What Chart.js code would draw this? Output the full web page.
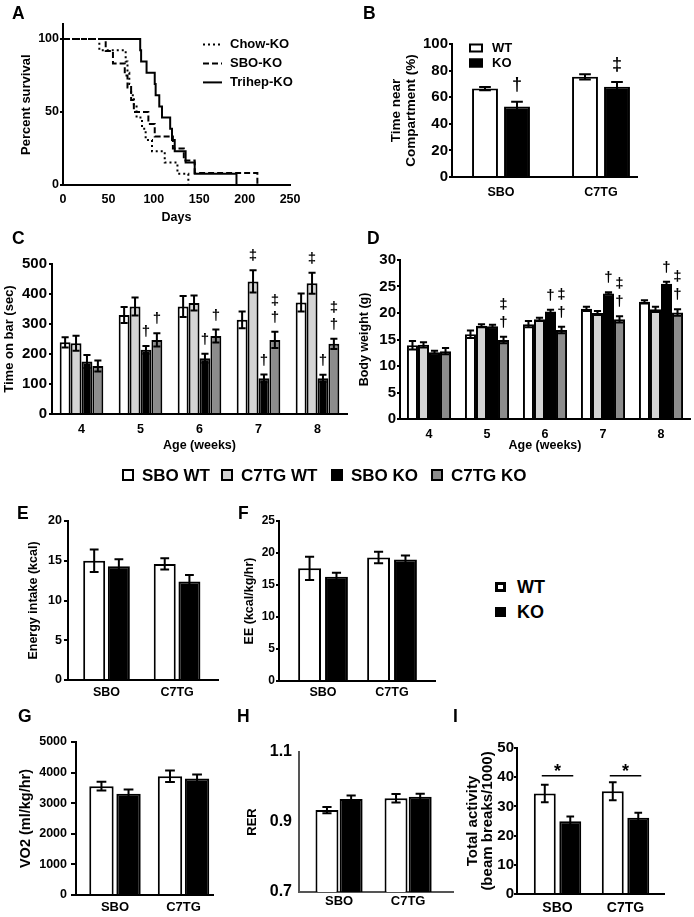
<!DOCTYPE html>
<html>
<head>
<meta charset="utf-8">
<script src="https://cdn.jsdelivr.net/npm/chart.js@4.4.0/dist/chart.umd.min.js"></script>
<style>
  body { margin: 0; background: #fff; }
  #fig { position: relative; width: 694px; height: 917px; overflow: hidden;
         font-family: "Liberation Sans", Arial, sans-serif; font-weight: bold; color: #000; }
  #fig canvas { position: absolute; }
  .letter { position: absolute; font-size: 17.5px; line-height: 1; }
  .txt { position: absolute; line-height: 1; white-space: nowrap; }
  .sq { position: absolute; box-sizing: border-box; border: 2px solid #000; }
</style>
</head>
<body>
<div id="fig"></div>
<script>
// ---------- données ----------
// A : courbes de survie (jours, % survie)
const chowDays   = [0, 40, 69, 71, 73, 75, 78, 81, 87, 91, 98, 112, 126, 138];
const chowSurv   = [100, 92.3, 84.6, 76.9, 69.2, 61.5, 53.8, 46.2, 38.5, 30.8, 23.1, 15.4, 7.7, 0];
const sboDays    = [0, 47, 55, 68, 71, 75, 78, 94, 101, 121, 133, 145, 214];
const sboSurv    = [100, 91.7, 83.3, 75, 66.7, 58.3, 50, 41.7, 33.3, 25, 16.7, 8.3, 0];
const trihepDays = [40, 85, 86, 92, 101, 102, 106, 109, 118, 120, 123, 135, 145, 191];
const trihepSurv = [100, 92.3, 84.6, 76.9, 69.2, 61.5, 53.8, 46.2, 38.5, 30.8, 23.1, 15.4, 7.7, 0];
const survNames  = ['Chow-KO', 'SBO-KO', 'Trihep-KO'];
const daysTicks  = [0, 50, 100, 150, 200, 250];
const survTicks  = [0, 50, 100];

// B : temps près du compartiment
const groups   = ['SBO', 'C7TG'];
const wtB      = [66.5, 75.3];
const wtB_err  = [1.2, 2];
const koB      = [53, 67.8];
const koB_err  = [3.6, 3.6];
const koB_sig  = ['†', '‡'];
const ticksB   = [0, 20, 40, 60, 80, 100];

// C : temps sur la barre (sec), semaines 4 a 8
const weeks       = ['4', '5', '6', '7', '8'];
const seriesNames = ['SBO WT', 'C7TG WT', 'SBO KO', 'C7TG KO'];
const sboWT_C = [239, 330, 358, 314, 372];  const sboWT_C_err = [17, 27, 35, 28, 30];
const c7WT_C  = [236, 358, 370, 442, 436];  const c7WT_C_err  = [25, 30, 25, 37, 35];
const sboKO_C = [175, 214, 186, 119, 119];  const sboKO_C_err = [22, 13, 15, 13, 12];
const c7KO_C  = [160, 247, 260, 247, 234];  const c7KO_C_err  = [18, 22, 22, 27, 17];
const c7WT_C_sig  = ['', '', '', '‡', '‡'];
const sboKO_C_sig = ['', '†', '†', '†', '†'];
const c7KO_C_sig  = ['', '†', '†', '‡†', '‡†'];
const ticksC = [0, 100, 200, 300, 400, 500];

// D : poids (g)
const sboWT_D = [13.9, 16.0, 17.9, 20.8, 22.1];  const sboWT_D_err = [0.8, 0.7, 0.6, 0.4, 0.3];
const c7WT_D  = [14.0, 17.6, 18.8, 20.0, 20.7];  const c7WT_D_err  = [0.5, 0.3, 0.3, 0.4, 0.5];
const sboKO_D = [12.6, 17.5, 20.3, 23.7, 25.5];  const sboKO_D_err = [0.3, 0.3, 0.3, 0.2, 0.4];
const c7KO_D  = [12.8, 14.9, 16.8, 18.8, 20.1];  const c7KO_D_err  = [0.6, 0.6, 0.6, 0.6, 0.6];
const sboKO_D_sig = ['', '', '†', '†', '†'];
const c7KO_D_sig  = ['', '‡†', '‡†', '‡†', '‡†'];
const ticksD = [0, 5, 10, 15, 20, 25, 30];

// E a I : WT / KO
const wtE = [15.0, 14.6];  const wtE_err = [1.4, 0.7];
const koE = [14.3, 12.4];  const koE_err = [0.9, 0.8];
const ticksE = [0, 5, 10, 15, 20];
const wtF = [17.6, 19.3];  const wtF_err = [1.8, 0.9];
const koF = [16.3, 19.0];  const koF_err = [0.6, 0.6];
const ticksF = [0, 5, 10, 15, 20, 25];
const wtG = [3557, 3880];  const wtG_err = [140, 185];
const koG = [3305, 3805];  const koG_err = [140, 130];
const ticksG = [0, 1000, 2000, 3000, 4000, 5000];
const wtH = [0.934, 0.968];  const wtH_err = [0.009, 0.012];
const koH = [0.966, 0.972];  const koH_err = [0.010, 0.009];
const ticksH = [0.7, 0.9, 1.1];
const wtI = [34.4, 35.2];  const wtI_err = [3.0, 3.1];
const koI = [24.9, 26.1];  const koI_err = [1.6, 1.7];
const ticksI = [0, 10, 20, 30, 40, 50];
const sigI = ['*', '*'];
const sigI_level = [40.5, 40.5];

// couleurs des barres
const fills = ['#ffffff', '#d4d4d4', '#000000', '#8c8c8c'];

Chart.defaults.font.family = '"Liberation Sans", Arial, sans-serif';
Chart.defaults.font.weight = 'bold';
Chart.defaults.font.size = 12;
Chart.defaults.color = '#000';
Chart.defaults.animation = false;
Chart.defaults.plugins.legend.display = false;
Chart.defaults.plugins.tooltip.enabled = false;

const FONT = '"Liberation Sans", Arial, sans-serif';
const fig = document.getElementById('fig');

// barres d'erreur + symboles († ‡) au dessus
const errorBars = {
  id: 'errorBars',
  afterDatasetsDraw(chart, args, opts) {
    const ctx = chart.ctx;
    const yScale = chart.scales.y;
    chart.data.datasets.forEach((ds, i) => {
      if (!ds.err) return;
      chart.getDatasetMeta(i).data.forEach((bar, j) => {
        const d = ds.data[j];
        const v = typeof d === 'object' ? d.y : d;
        const yTop = yScale.getPixelForValue(v + ds.err[j]);
        const yBot = yScale.getPixelForValue(v - ds.err[j]);
        const half = bar.width * opts.cap / 2;
        ctx.save();
        ctx.strokeStyle = '#000';
        ctx.lineWidth = 2;
        ctx.beginPath();
        ctx.moveTo(bar.x, yTop); ctx.lineTo(bar.x, yBot);
        ctx.moveTo(bar.x - half, yTop); ctx.lineTo(bar.x + half, yTop);
        ctx.moveTo(bar.x - half, yBot); ctx.lineTo(bar.x + half, yBot);
        ctx.stroke();
        if (ds.marks && ds.marks[j]) {
          ctx.fillStyle = '#000';
          ctx.font = 'bold ' + opts.markSize + 'px ' + FONT;
          ctx.textAlign = 'center';
          ctx.textBaseline = 'middle';
          Array.from(ds.marks[j]).reverse().forEach((c, k) => {
            ctx.fillText(c, bar.x, yTop - opts.markGap - k * opts.markStep);
          });
        }
        ctx.restore();
      });
    });
  }
};

// legende du panneau A (traits)
const lineLegend = {
  id: 'lineLegend',
  afterDraw(chart, args, opts) {
    const {ctx, chartArea} = chart;
    chart.data.datasets.forEach((ds, i) => {
      const x = chartArea.left + opts.dx;
      const y = chartArea.top + opts.dy + i * opts.step;
      ctx.save();
      ctx.strokeStyle = '#000';
      ctx.lineWidth = 2;
      ctx.setLineDash(ds.borderDash || []);
      ctx.beginPath(); ctx.moveTo(x, y); ctx.lineTo(x + opts.len, y); ctx.stroke();
      ctx.setLineDash([]);
      ctx.fillStyle = '#000';
      ctx.font = 'bold ' + opts.size + 'px ' + FONT;
      ctx.textBaseline = 'middle';
      ctx.fillText(ds.label, x + opts.len + opts.gap, y);
      ctx.restore();
    });
  }
};

// legende du panneau B (carres)
const boxLegend = {
  id: 'boxLegend',
  afterDraw(chart, args, opts) {
    const {ctx, chartArea} = chart;
    chart.data.datasets.forEach((ds, i) => {
      const x = chartArea.left + opts.dx;
      const y = chartArea.top + opts.dy + i * opts.step;
      ctx.save();
      ctx.fillStyle = ds.backgroundColor;
      ctx.fillRect(x, y - opts.h / 2, opts.w, opts.h);
      ctx.strokeStyle = '#000';
      ctx.lineWidth = 2;
      ctx.strokeRect(x + 1, y - opts.h / 2 + 1, opts.w - 2, opts.h - 2);
      ctx.fillStyle = '#000';
      ctx.font = 'bold ' + opts.size + 'px ' + FONT;
      ctx.textBaseline = 'middle';
      ctx.fillText(ds.label, x + opts.w + opts.gap, y);
      ctx.restore();
    });
  }
};

// traits de significativite (panneau I)
const sigLines = {
  id: 'sigLines',
  afterDatasetsDraw(chart, args, opts) {
    const ctx = chart.ctx;
    const a = chart.getDatasetMeta(0).data, b = chart.getDatasetMeta(1).data;
    opts.labels.forEach((lab, j) => {
      if (!lab) return;
      const y = chart.scales.y.getPixelForValue(opts.levels[j]);
      const x1 = a[j].x - 3, x2 = b[j].x + 3;
      ctx.save();
      ctx.strokeStyle = '#000';
      ctx.lineWidth = 1.5;
      ctx.beginPath(); ctx.moveTo(x1, y); ctx.lineTo(x2, y); ctx.stroke();
      ctx.fillStyle = '#000';
      ctx.font = 'bold 18px ' + FONT;
      ctx.textAlign = 'center';
      ctx.textBaseline = 'alphabetic';
      ctx.fillText(lab, (x1 + x2) / 2, y + 1);
      ctx.restore();
    });
  }
};

function makeChart(g, cfg) {
  const c = document.createElement('canvas');
  c.width = g.right - g.left;
  c.height = g.bottom - g.top;
  c.style.left = g.left + 'px';
  c.style.top = g.top + 'px';
  fig.appendChild(c);
  cfg.options.responsive = false;
  cfg.options.layout = {padding: {left: 0, top: g.yTop - g.top, right: g.right - g.xEnd, bottom: 0}};
  cfg.options.scales.y.afterFit = s => { s.width = g.axisX - g.left; };
  cfg.options.scales.x.afterFit = s => { s.height = g.bottom - g.axisY; };
  return new Chart(c, cfg);
}

function yScale(o) {
  const col = o.color || '#000';
  return {
    min: o.min, max: o.max,
    afterBuildTicks: s => { s.ticks = o.ticks.map(v => ({value: v})); },
    ticks: {font: {size: o.fs}, padding: o.pad, color: '#000', callback: v => String(v)},
    grid: {display: o.tl > 0, drawOnChartArea: false, drawTicks: o.tl > 0, tickLength: o.tl, lineWidth: 2, color: col},
    border: {display: true, color: col, width: 2},
    title: {display: true, text: o.title, font: {size: o.tfs, lineHeight: o.tlh || 1.2}, padding: 0, color: '#000'}
  };
}

function xPair(min, max, fs, pad, col) {
  return {
    type: 'linear', min: min, max: max, offset: false,
    afterBuildTicks: s => { s.ticks = groups.map((l, i) => ({value: i})); },
    ticks: {font: {size: fs}, padding: pad, color: '#000', callback: v => groups[v]},
    grid: {display: false, drawTicks: false},
    border: {display: true, color: col || '#000', width: 2}
  };
}

function xWeeks() {
  return {
    type: 'category',
    ticks: {font: {size: 12.5}, padding: 8.5, color: '#000'},
    grid: {display: false, drawTicks: false},
    border: {display: true, color: '#000', width: 2},
    title: {display: true, text: 'Age (weeks)', font: {size: 12.5}, padding: 0, color: '#000'}
  };
}

function barSet(label, vals, err, fill, marks, cp, bp, pair) {
  return {
    label: label,
    data: pair ? vals.map((v, i) => ({x: i, y: v})) : vals,
    err: err, marks: marks,
    backgroundColor: fill, borderColor: '#000', borderWidth: 2,
    categoryPercentage: cp, barPercentage: bp
  };
}

function survSet(label, days, surv, dash) {
  return {
    label: label,
    data: days.map((d, i) => ({x: d, y: surv[i]})),
    stepped: true, borderColor: '#000', borderWidth: 2, borderDash: dash,
    pointRadius: 0, fill: false
  };
}

// ---------- A ----------
makeChart({left: 19, top: 4, right: 308, bottom: 225, axisX: 63, axisY: 185, yTop: 24.4, xEnd: 293}, {
  type: 'line',
  data: {datasets: [
    survSet(survNames[0], chowDays, chowSurv, [2, 3]),
    survSet(survNames[1], sboDays, sboSurv, [6, 3]),
    survSet(survNames[2], trihepDays, trihepSurv, [])
  ]},
  options: {
    scales: {
      x: {
        type: 'linear', min: 0, max: 250,
        afterBuildTicks: s => { s.ticks = daysTicks.map(v => ({value: v})); },
        ticks: {font: {size: 12.5}, padding: 7.5, color: '#000', callback: v => String(v)},
        grid: {display: false, drawTicks: false},
        border: {display: true, color: '#000', width: 2},
        title: {display: true, text: 'Days', font: {size: 12.5}, padding: 0, color: '#000'}
      },
      y: yScale({min: 0, max: 110, ticks: survTicks, fs: 12.5, tl: 3, pad: 1, title: 'Percent survival', tfs: 13})
    },
    plugins: {lineLegend: {dx: 140, dy: 20, step: 19, len: 19, gap: 8, size: 13}}
  },
  plugins: [lineLegend]
});

// ---------- B ----------
makeChart({left: 389, top: 26, right: 645, bottom: 210, axisX: 452, axisY: 177, yTop: 44, xEnd: 637}, {
  type: 'bar',
  data: {datasets: [
    barSet('WT', wtB, wtB_err, fills[0], null, 0.64, 0.81, true),
    barSet('KO', koB, koB_err, fills[2], koB_sig, 0.64, 0.81, true)
  ]},
  options: {
    scales: {
      x: xPair(-0.49, 1.36, 12.5, 8.5),
      y: yScale({min: 0, max: 100, ticks: ticksB, fs: 15, tl: 3, pad: 1,
                 title: ['Time near', 'Compartment (%)'], tfs: 13.5, tlh: 1.1})
    },
    plugins: {
      errorBars: {cap: 0.45, markSize: 18, markGap: 17, markStep: 18},
      boxLegend: {dx: 17, dy: 4, step: 15, w: 14, h: 9, size: 13, gap: 9}
    }
  },
  plugins: [errorBars, boxLegend]
});

// ---------- C ----------
makeChart({left: 2, top: 246, right: 350, bottom: 453, axisX: 52, axisY: 414, yTop: 264, xEnd: 347}, {
  type: 'bar',
  data: {labels: weeks, datasets: [
    barSet(seriesNames[0], sboWT_C, sboWT_C_err, fills[0], null, 0.74, 1),
    barSet(seriesNames[1], c7WT_C, c7WT_C_err, fills[1], c7WT_C_sig, 0.74, 1),
    barSet(seriesNames[2], sboKO_C, sboKO_C_err, fills[2], sboKO_C_sig, 0.74, 1),
    barSet(seriesNames[3], c7KO_C, c7KO_C_err, fills[3], c7KO_C_sig, 0.74, 1)
  ]},
  options: {
    scales: {
      x: xWeeks(),
      y: yScale({min: 0, max: 500, ticks: ticksC, fs: 15, tl: 3, pad: 2, title: 'Time on bar (sec)', tfs: 13})
    },
    plugins: {errorBars: {cap: 0.65, markSize: 15, markGap: 14, markStep: 17}}
  },
  plugins: [errorBars]
});

// ---------- D ----------
makeChart({left: 357, top: 242, right: 693, bottom: 453, axisX: 400, axisY: 419, yTop: 260, xEnd: 690}, {
  type: 'bar',
  data: {labels: weeks, datasets: [
    barSet(seriesNames[0], sboWT_D, sboWT_D_err, fills[0], null, 0.76, 1),
    barSet(seriesNames[1], c7WT_D, c7WT_D_err, fills[1], null, 0.76, 1),
    barSet(seriesNames[2], sboKO_D, sboKO_D_err, fills[2], sboKO_D_sig, 0.76, 1),
    barSet(seriesNames[3], c7KO_D, c7KO_D_err, fills[3], c7KO_D_sig, 0.76, 1)
  ]},
  options: {
    scales: {
      x: xWeeks(),
      y: yScale({min: 0, max: 30, ticks: ticksD, fs: 15, tl: 3, pad: 1, title: 'Body weight (g)', tfs: 12.5})
    },
    plugins: {errorBars: {cap: 0.65, markSize: 15, markGap: 14, markStep: 18}}
  },
  plugins: [errorBars]
});

// ---------- E ----------
makeChart({left: 26, top: 503, right: 224, bottom: 705, axisX: 68, axisY: 680, yTop: 521, xEnd: 218}, {
  type: 'bar',
  data: {datasets: [
    barSet('WT', wtE, wtE_err, fills[0], null, 0.70, 0.89, true),
    barSet('KO', koE, koE_err, fills[2], null, 0.70, 0.89, true)
  ]},
  options: {
    scales: {
      x: xPair(-0.546, 1.58, 12.5, 5.5),
      y: yScale({min: 0, max: 20, ticks: ticksE, fs: 12.5, tl: 4, pad: 2, title: 'Energy intake (kcal)', tfs: 12.5})
    },
    plugins: {errorBars: {cap: 0.4}}
  },
  plugins: [errorBars]
});

// ---------- F ----------
makeChart({left: 242, top: 503, right: 441, bottom: 705, axisX: 279, axisY: 681, yTop: 521, xEnd: 435}, {
  type: 'bar',
  data: {datasets: [
    barSet('WT', wtF, wtF_err, fills[0], null, 0.78, 0.85, true),
    barSet('KO', koF, koF_err, fills[2], null, 0.78, 0.85, true)
  ]},
  options: {
    scales: {
      x: xPair(-0.638, 1.623, 12.5, 4.5),
      y: yScale({min: 0, max: 25, ticks: ticksF, fs: 12, tl: 3, pad: 1, title: 'EE (kcal/kg/hr)', tfs: 12.5})
    },
    plugins: {errorBars: {cap: 0.4}}
  },
  plugins: [errorBars]
});

// ---------- G ----------
makeChart({left: 17, top: 724, right: 219, bottom: 917, axisX: 76, axisY: 895, yTop: 742, xEnd: 213}, {
  type: 'bar',
  data: {datasets: [
    barSet('WT', wtG, wtG_err, fills[0], null, 0.79, 0.9, true),
    barSet('KO', koG, koG_err, fills[2], null, 0.79, 0.9, true)
  ]},
  options: {
    scales: {
      x: xPair(-0.569, 1.43, 13, 4.2),
      y: yScale({min: 0, max: 5000, ticks: ticksG, fs: 12.5, tl: 5, pad: 4, title: 'VO2 (ml/kg/hr)', tfs: 14.5})
    },
    plugins: {errorBars: {cap: 0.4}}
  },
  plugins: [errorBars]
});

// ---------- H ----------
makeChart({left: 245, top: 732, right: 458, bottom: 917, axisX: 299, axisY: 892, yTop: 752, xEnd: 453}, {
  type: 'bar',
  data: {datasets: [
    barSet('WT', wtH, wtH_err, fills[0], null, 0.70, 0.95, true),
    barSet('KO', koH, koH_err, fills[2], null, 0.70, 0.95, true)
  ]},
  options: {
    scales: {
      x: xPair(-0.58, 1.65, 13, 2, '#555'),
      y: yScale({min: 0.7, max: 1.1, ticks: ticksH, fs: 16, tl: 0, pad: 7, title: 'RER', tfs: 13, color: '#555'})
    },
    plugins: {errorBars: {cap: 0.4}}
  },
  plugins: [errorBars]
});

// ---------- I ----------
makeChart({left: 465, top: 730, right: 672, bottom: 917, axisX: 517, axisY: 894, yTop: 748, xEnd: 664}, {
  type: 'bar',
  data: {datasets: [
    barSet('WT', wtI, wtI_err, fills[0], null, 0.75, 0.86, true),
    barSet('KO', koI, koI_err, fills[2], null, 0.75, 0.86, true)
  ]},
  options: {
    scales: {
      x: xPair(-0.596, 1.566, 14, 5.6),
      y: yScale({min: 0, max: 50, ticks: ticksI, fs: 15, tl: 3, pad: 0,
                 title: ['Total activity', '(beam breaks/1000)'], tfs: 15, tlh: 1})
    },
    plugins: {
      errorBars: {cap: 0.35},
      sigLines: {labels: sigI, levels: sigI_level}
    }
  },
  plugins: [errorBars, sigLines]
});

// ---------- lettres des panneaux ----------
const letters = [['A', 12, 7], ['B', 363, 7], ['C', 12, 232], ['D', 367, 232], ['E', 17, 507],
                 ['F', 238, 507], ['G', 18, 710], ['H', 237, 710], ['I', 453, 710]];
letters.forEach(([t, x, y]) => {
  const d = document.createElement('div');
  d.className = 'letter';
  d.textContent = t;
  d.style.left = x + 'px';
  d.style.top = (y - 2) + 'px';
  fig.appendChild(d);
});

// ---------- legende commune C/D ----------
const legBoxX = [122, 221, 331, 431];
seriesNames.forEach((name, i) => {
  const b = document.createElement('div');
  b.className = 'sq';
  b.style.cssText = 'left:' + legBoxX[i] + 'px;top:469px;width:12px;height:12px;background:' + fills[i];
  fig.appendChild(b);
  const t = document.createElement('div');
  t.className = 'txt';
  t.style.cssText = 'left:' + (legBoxX[i] + 20) + 'px;top:467px;font-size:17px';
  t.textContent = name;
  fig.appendChild(t);
});

// ---------- legende WT / KO ----------
['WT', 'KO'].forEach((name, i) => {
  const b = document.createElement('div');
  b.className = 'sq';
  b.style.cssText = 'left:495px;top:' + (582 + i * 25) + 'px;width:11px;height:10px;border-width:3px;background:' + (i ? '#000' : '#fff');
  fig.appendChild(b);
  const t = document.createElement('div');
  t.className = 'txt';
  t.style.cssText = 'left:517px;top:' + (578 + i * 25) + 'px;font-size:18px';
  t.textContent = name;
  fig.appendChild(t);
});
</script>
</body>
</html>
